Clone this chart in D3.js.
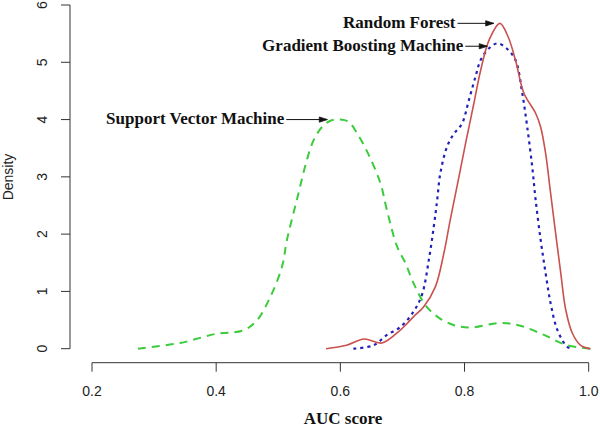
<html lang='en'>
<head>
   <meta charset='UTF-8'>
   <script src='https://d3js.org/d3.v7.min.js'></script>
   <style>
      body{ margin:0; padding:0; background-color:white; }
   </style>
</head>
<body>
   <div id='tavola'></div>
   <script>
   // density curves (AUC value, density)
   var rfAuc  = [0.577,0.61,0.638,0.667,0.697,0.7075,0.718,0.734,0.753,0.7666,0.777,0.791,0.8016,0.815,0.826,0.84,0.857,0.87,0.882,0.8957,0.9145,0.9226,0.9306,0.9387,0.9468,0.955,0.963,0.9737,0.987,1.003];
   var rfDens = [0.0,0.06,0.17,0.10,0.33,0.44,0.56,0.73,1.08,1.66,2.25,3.0,3.58,4.28,4.86,5.4,5.68,5.45,5.04,4.46,4.11,3.87,3.41,2.71,2.01,1.32,0.68,0.27,0.06,0.0];

   var gbmAuc  = [0.621,0.6537,0.675,0.697,0.718,0.7317,0.7425,0.7505,0.756,0.761,0.772,0.7828,0.796,0.807,0.8177,0.826,0.84,0.853,0.867,0.882,0.893,0.901,0.909,0.9145,0.9226,0.9306,0.9387,0.9495,0.9656,0.9737];
   var gbmDens = [0.0,0.06,0.24,0.38,0.65,0.95,1.55,2.13,2.6,3.06,3.53,3.75,3.93,4.34,4.75,5.04,5.25,5.33,5.25,5.04,4.46,3.87,3.18,2.6,1.9,1.32,0.79,0.33,0.03,0.0];

   var svmAuc  = [0.274,0.342,0.40,0.444,0.466,0.487,0.506,0.514,0.53,0.546,0.557,0.5705,0.584,0.6,0.6134,0.627,0.645,0.6645,0.675,0.6915,0.705,0.718,0.737,0.756,0.783,0.81,0.858,0.89,0.928,0.9656,1.003];
   var svmDens = [0.0,0.1,0.26,0.32,0.5,0.9,1.43,1.9,2.6,3.29,3.64,3.87,3.98,4.0,3.96,3.76,3.4,2.89,2.42,1.78,1.49,1.14,0.76,0.56,0.41,0.37,0.45,0.40,0.24,0.06,0.0];

   var xTicks = [0.2,0.4,0.6,0.8,1.0];
   var yTicks = [0,1,2,3,4,5,6];

   // annotations: label, arrow tip (auc, density), text right end (auc)
   var annoLabels = ['Random Forest','Gradient Boosting Machine','Support Vector Machine'];
   var annoTipX   = [0.847,0.8366,0.579];
   var annoTipY   = [5.68,5.28,4.0];
   var annoTextX  = [0.7855,0.798,0.5097];

   var svg = d3.select('#tavola').append('svg')
      .attr('width',600)
      .attr('height',433);

   var x = d3.scaleLinear().domain([0.2,1.0]).range([92,588.7]);
   var y = d3.scaleLinear().domain([0,6]).range([348.7,5]);

   var line = d3.line()
      .x(function(d){ return x(d[0]); })
      .y(function(d){ return y(d[1]); })
      .curve(d3.curveCatmullRom.alpha(0.5));

   // x axis
   var xAxis = svg.append('g').attr('transform','translate(0,362.7)');
   xAxis.append('line')
      .attr('x1',x(0.2)).attr('x2',x(1.0))
      .attr('stroke','#333').attr('stroke-width',1);
   xTicks.forEach(function(t){
      xAxis.append('line')
         .attr('x1',x(t)).attr('x2',x(t)).attr('y1',0).attr('y2',9)
         .attr('stroke','#333').attr('stroke-width',1);
      xAxis.append('text')
         .attr('x',x(t)).attr('y',33)
         .attr('text-anchor','middle')
         .attr('font-family','Liberation Sans, Arial, sans-serif')
         .attr('font-size','14px')
         .attr('fill','#222')
         .text(t.toFixed(1));
   });

   // y axis
   var yAxis = svg.append('g').attr('transform','translate(70,0)');
   yAxis.append('line')
      .attr('y1',y(0)).attr('y2',y(6))
      .attr('stroke','#333').attr('stroke-width',1);
   yTicks.forEach(function(t){
      yAxis.append('line')
         .attr('x1',0).attr('x2',-9).attr('y1',y(t)).attr('y2',y(t))
         .attr('stroke','#333').attr('stroke-width',1);
      yAxis.append('text')
         .attr('transform','translate(-23,'+y(t)+') rotate(-90)')
         .attr('text-anchor','middle')
         .attr('font-family','Liberation Sans, Arial, sans-serif')
         .attr('font-size','14px')
         .attr('fill','#222')
         .text(t);
   });

   svg.append('text')
      .attr('transform','translate(13,177) rotate(-90)')
      .attr('text-anchor','middle')
      .attr('font-family','Liberation Sans, Arial, sans-serif')
      .attr('font-size','14px')
      .attr('fill','#222')
      .text('Density');

   svg.append('text')
      .attr('x',343).attr('y',424)
      .attr('text-anchor','middle')
      .attr('font-family','Liberation Serif, Times New Roman, serif')
      .attr('font-weight','bold')
      .attr('font-size','17px')
      .attr('fill','#111')
      .text('AUC score');

   // curves
   svg.append('path')
      .attr('d',line(d3.zip(svmAuc,svmDens)))
      .attr('fill','none')
      .attr('stroke','#3ccb3c')
      .attr('stroke-width',2)
      .attr('stroke-dasharray','8,6');

   svg.append('path')
      .attr('d',line(d3.zip(gbmAuc,gbmDens)))
      .attr('fill','none')
      .attr('stroke','#2121b8')
      .attr('stroke-width',2.2)
      .attr('stroke-dasharray','3,4');

   svg.append('path')
      .attr('d',line(d3.zip(rfAuc,rfDens)))
      .attr('fill','none')
      .attr('stroke','#c9514e')
      .attr('stroke-width',1.6);

   // annotation labels and arrows
   for (let i = 0; i < annoLabels.length; i++) {
      var tx = x(annoTipX[i]), ty = y(annoTipY[i]);
      var ex = x(annoTextX[i]);
      svg.append('text')
         .attr('x',ex).attr('y',ty+4.5)
         .attr('text-anchor','end')
         .attr('font-family','Liberation Serif, Times New Roman, serif')
         .attr('font-weight','bold')
         .attr('font-size','17px')
         .attr('fill','#111')
         .text(annoLabels[i]);
      svg.append('line')
         .attr('x1',ex+2).attr('x2',tx).attr('y1',ty).attr('y2',ty)
         .attr('stroke','#111').attr('stroke-width',1);
      svg.append('path')
         .attr('d','M'+(tx-8)+','+(ty-2.6)+'L'+tx+','+ty+'L'+(tx-8)+','+(ty+2.6)+'Z')
         .attr('fill','#111').attr('stroke','#111').attr('stroke-width',0.8);
   }
   </script>
</body>
</html>
